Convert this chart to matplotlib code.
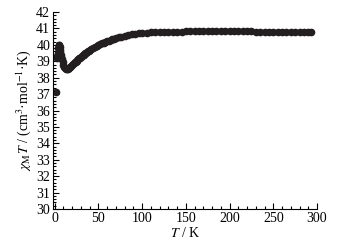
import matplotlib
matplotlib.use("Agg")
import matplotlib.pyplot as plt
from matplotlib.ticker import MultipleLocator

# temperature (K) and chi_M*T (cm3 mol-1 K)
temp = [2, 2.5, 3, 3.5, 4, 4.5, 5, 5.5, 6, 6.5, 7, 7.5, 8, 9, 10, 11, 12, 13,
        14, 15, 16, 17, 18, 19, 20, 21, 22, 23, 24, 25, 26, 27, 28, 29, 30,
        31, 32, 33, 34, 35, 36, 37, 38, 39, 40, 42, 44, 46, 48, 50,
        52, 54, 56, 58, 60, 62, 64, 66, 68, 70, 73, 76, 80, 84, 88, 92, 96,
        100, 105, 110, 115, 120, 125, 130, 135, 140, 145, 150, 155, 160, 165,
        170, 175, 180, 185, 190, 195, 200, 205, 210, 215, 220, 225, 230, 235,
        240, 245, 250, 255, 260, 265, 270, 275, 280, 285, 290, 293]
chiT = [37.1, 39.2, 39.35, 39.5, 39.8, 40.0, 40.0, 39.85, 39.7, 39.55, 39.4,
        39.27, 39.15, 38.95, 38.8, 38.65, 38.58, 38.53,
        38.52, 38.55, 38.6, 38.64, 38.68, 38.73, 38.78, 38.83, 38.88, 38.93,
        38.98, 39.03, 39.08, 39.13, 39.18, 39.22, 39.27,
        39.31, 39.36, 39.4, 39.45, 39.49, 39.53, 39.57, 39.61, 39.65, 39.68,
        39.75, 39.82, 39.88, 39.94, 40.0,
        40.04, 40.09, 40.13, 40.18, 40.22, 40.26, 40.3, 40.34, 40.37, 40.41,
        40.46, 40.5, 40.56, 40.6, 40.64, 40.67, 40.7,
        40.72, 40.74, 40.76, 40.77, 40.78, 40.79, 40.8, 40.8, 40.81, 40.81,
        40.82, 40.82, 40.82, 40.82,
        40.82, 40.82, 40.82, 40.82, 40.82, 40.82, 40.82, 40.82, 40.82, 40.82,
        40.82, 40.82, 40.81, 40.81,
        40.81, 40.81, 40.81, 40.8, 40.8, 40.8, 40.8, 40.8, 40.8, 40.8, 40.8,
        40.8]

plt.rcParams['font.family'] = ['Liberation Serif', 'DejaVu Serif']
plt.rcParams['mathtext.fontset'] = 'stix'

fig = plt.figure(figsize=(3.38, 2.43), dpi=100)
ax = fig.add_axes([53/338, 1 - 209/243, (317 - 53)/338, (209 - 12)/243])

ax.plot(temp, chiT, 'o', color='#231f20', ms=5.5, mec='#231f20', mew=0)

ax.set_xlim(-2, 300)
ax.set_ylim(30, 42)
ax.xaxis.set_major_locator(MultipleLocator(50))
ax.xaxis.set_minor_locator(MultipleLocator(10))
ax.yaxis.set_major_locator(MultipleLocator(1))
ax.yaxis.set_minor_locator(MultipleLocator(0.2))
ax.tick_params(which='both', direction='in', labelsize=10, width=0.8)
ax.tick_params(which='major', length=4, pad=2)
ax.tick_params(which='minor', length=2)
for s in ['top', 'right']:
    ax.spines[s].set_visible(False)

ax.set_xlabel(r'$T$ / K', fontsize=10, labelpad=1)
ax.set_ylabel(r'$\chi_{\rm M}T$ / (cm$^3$·mol$^{-1}$·K)', fontsize=10, labelpad=2)

plt.savefig('out.png', dpi=100)
